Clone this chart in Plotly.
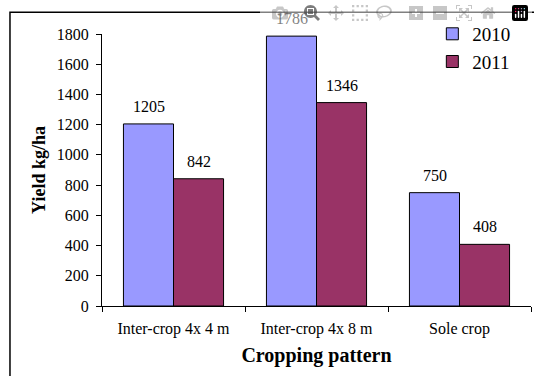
import plotly.graph_objects as go

categories = ["Inter-crop 4x 4 m", "Inter-crop 4x 8 m", "Sole crop"]
yield_2010 = [1205, 1786, 750]
yield_2011 = [842, 1346, 408]
series_names = ["2010", "2011"]
y_ticks = [0, 200, 400, 600, 800, 1000, 1200, 1400, 1600, 1800]

FONT = "Liberation Serif, Times New Roman, serif"
colors = ["#9999FF", "#993366"]

fig = go.Figure()
for name, vals, col in zip(series_names, [yield_2010, yield_2011], colors):
    fig.add_trace(go.Bar(
        x=categories, y=vals, name=name,
        marker=dict(color=col, line=dict(color="black", width=1)),
    ))

annotations = []
for shift, vals in zip([-25, 25], [yield_2010, yield_2011]):
    for c, v in zip(categories, vals):
        annotations.append(dict(
            x=c, y=v, xref="x", yref="y", text=str(v), showarrow=False,
            xshift=shift, yshift=7, yanchor="bottom",
            font=dict(family=FONT, size=16, color="black"),
        ))

fig.update_layout(
    width=534, height=376,
    margin=dict(l=102, r=3, t=34, b=70, autoexpand=False),
    paper_bgcolor="white", plot_bgcolor="white",
    barmode="group", bargap=0.3, bargroupgap=0,
    font=dict(family=FONT, color="black"),
    annotations=annotations,
    legend=dict(
        x=0.77, y=1.07, xanchor="left", yanchor="top",
        font=dict(family=FONT, size=19, color="black"),
        bgcolor="rgba(0,0,0,0)", tracegroupgap=0, itemwidth=30,
    ),
    shapes=[
        dict(type="rect", xref="paper", yref="paper",
             x0=-0.2145, x1=1.2, y0=-0.6, y1=1.08,
             fillcolor="rgba(0,0,0,0)",
             line=dict(color="black", width=1.5), layer="above"),
    ],
)

fig.update_xaxes(
    type="category", showline=True, linecolor="black", linewidth=1,
    ticks="outside", tickson="boundaries", ticklen=5, tickcolor="black",
    ticklabelstandoff=8,
    tickfont=dict(family=FONT, size=16, color="black"),
    title=dict(text="<b>Cropping pattern</b>", font=dict(family=FONT, size=20, color="black"), standoff=10),
    showgrid=False, automargin=False,
)
fig.update_yaxes(
    range=[0, 1800], tickvals=y_ticks, showline=True, linecolor="black", linewidth=1,
    ticks="outside", ticklen=5, tickcolor="black", ticklabelstandoff=4,
    tickfont=dict(family=FONT, size=16, color="black"),
    title=dict(text="<b>Yield kg/ha</b>", font=dict(family=FONT, size=18, color="black"), standoff=6),
    showgrid=False, zeroline=False, automargin=False,
)

fig.write_html(
    "out.html",
    post_script="document.body.style.margin='0';document.body.style.overflow='hidden';window.scrollTo(0,0);",
)
